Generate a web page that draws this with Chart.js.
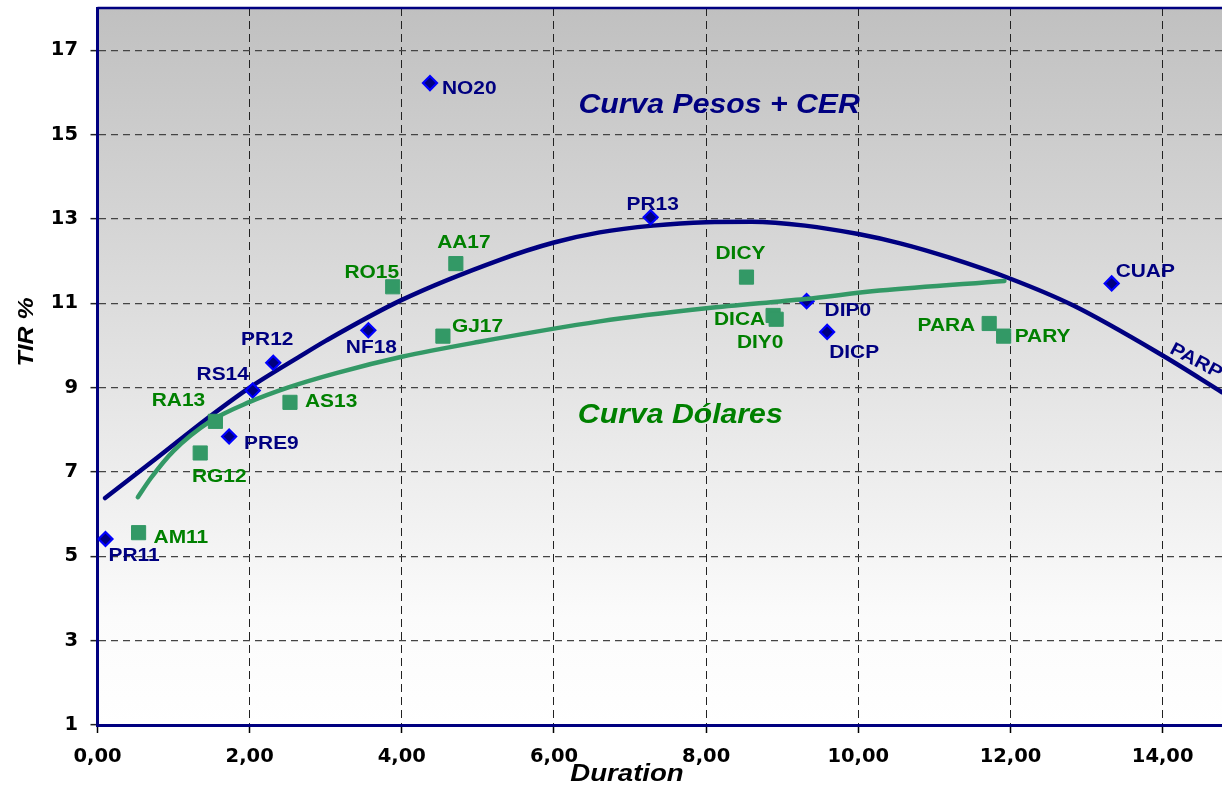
<!DOCTYPE html>
<html><head><meta charset="utf-8">
<script src="https://cdn.jsdelivr.net/npm/chart.js@4"></script>
<style>html,body{margin:0;padding:0;background:#fff;overflow:hidden}#wrap{width:1222px;height:789px;position:relative}</style>
</head><body><div id="wrap"><canvas id="c" width="1222" height="789"></canvas></div>
<script>
// ---------- data ----------
const cerNames    = ['PR11','NO20','NF18','PR12','RS14','PRE9','PR13','DIP0','DICP','CUAP'];
const cerDuration = [0.105, 4.37, 3.56, 2.31, 2.04, 1.73, 7.27, 9.32, 9.59, 13.33];
const cerTIR      = [5.41, 16.22, 10.36, 9.59, 8.93, 7.84, 13.04, 11.05, 10.32, 11.47];

const usdNames    = ['AM11','RG12','RA13','AS13','RO15','AA17','GJ17','DICY','DICA','DIY0','PARA','PARY'];
const usdDuration = [0.54, 1.35, 1.55, 2.53, 3.88, 4.71, 4.54, 8.53, 8.88, 8.92, 11.72, 11.91];
const usdTIR      = [5.56, 7.45, 8.20, 8.65, 11.39, 11.94, 10.22, 11.62, 10.71, 10.62, 10.52, 10.22];

const cerCurveX = [0.10, 0.80, 1.48, 2.00, 2.66, 3.01, 4.00, 5.29, 6.00, 6.60, 7.30, 8.00, 8.60, 9.30, 10.00, 10.55, 11.20, 12.00, 12.82, 14.00, 14.78];
const cerCurveY = [6.38, 7.36, 8.32, 9.00, 9.74, 10.12, 11.08, 12.03, 12.44, 12.68, 12.84, 12.92, 12.93, 12.84, 12.64, 12.42, 12.08, 11.58, 10.95, 9.76, 8.89];

const usdCurveX = [0.53, 0.70, 1.00, 1.48, 2.00, 2.50, 3.15, 4.00, 5.00, 6.60, 8.00, 9.30, 10.28, 11.92];
const usdCurveY = [6.40, 6.85, 7.50, 8.20, 8.66, 9.00, 9.35, 9.73, 10.08, 10.57, 10.88, 11.10, 11.30, 11.53];

const xTicks = [0, 2, 4, 6, 8, 10, 12, 14];
const yTicks = [1, 3, 5, 7, 9, 11, 13, 15, 17];
const xTitle = 'Duration';
const yTitle = 'TIR %';
const cerTitle = 'Curva Pesos + CER';
const usdTitle = 'Curva Dólares';
const extraLabel = 'PARP';

// ---------- layout / style (not data) ----------
const NAVY = '#000080', BLUE = '#0000ff', SEA = '#339966', GREEN = '#008000';
const labelPos = {
  PR11:[3,17,'left'], NO20:[12,6,'left'], NF18:[3,18,'center'], PR12:[-6,-23,'center'],
  RS14:[-30,-16,'center'], PRE9:[15,7.5,'left'], PR13:[2,-12.5,'center'], DIP0:[18,10,'left'],
  DICP:[2,21,'left'], CUAP:[4,-11.5,'left'],
  AM11:[15,5,'left'], RG12:[19,24,'center'], RA13:[-37,-20,'center'], AS13:[15,0,'left'],
  RO15:[-21,-14,'center'], AA17:[8,-21,'center'], GJ17:[9,-9,'left'], DICY:[-6,-23,'center'],
  DICA:[-8,4.3,'right'], DIY0:[-16,24,'center'], PARA:[-14,2,'right'], PARY:[11,1,'left']
};
const titlePos = { cer:[8.17, 15.70], usd:[7.66, 8.34], parp:[14.11, 9.94] };

function drawText(ctx, txt, x, y, align, font, color, sx, rot) {
  ctx.save();
  ctx.translate(x, y);
  if (rot) ctx.rotate(rot);
  ctx.scale(sx, 1);
  ctx.font = font;
  ctx.fillStyle = color;
  ctx.textAlign = align;
  ctx.textBaseline = 'middle';
  ctx.fillText(txt, 0, 0);
  ctx.restore();
}

const bgPlugin = {
  id: 'bg',
  beforeDraw(chart) {
    const {ctx, chartArea: a} = chart;
    const g = ctx.createLinearGradient(0, a.top, 0, a.bottom);
    g.addColorStop(0, '#c0c0c0');
    g.addColorStop(0.55, '#e6e6e6');
    g.addColorStop(0.85, '#fbfbfb');
    g.addColorStop(1, '#ffffff');
    ctx.save();
    ctx.fillStyle = g;
    ctx.fillRect(a.left, a.top, a.right - a.left, a.bottom - a.top);
    ctx.restore();
  },
  beforeDatasetsDraw(chart) {
    const {ctx, chartArea: a} = chart;
    ctx.save();
    ctx.strokeStyle = NAVY; ctx.lineWidth = 2.5;
    ctx.beginPath(); ctx.moveTo(a.left, a.top); ctx.lineTo(a.right, a.top); ctx.stroke();
    ctx.restore();
  },
  afterDatasetsDraw(chart) {
    const ctx = chart.ctx, xs = chart.scales.x, ys = chart.scales.y;
    const lf = 'bold 18.5px "Liberation Sans", Arial, sans-serif';
    cerNames.forEach((n, i) => {
      const p = labelPos[n];
      drawText(ctx, n, xs.getPixelForValue(cerDuration[i]) + p[0], ys.getPixelForValue(cerTIR[i]) + p[1], p[2], lf, NAVY, 1.13);
    });
    usdNames.forEach((n, i) => {
      const p = labelPos[n];
      drawText(ctx, n, xs.getPixelForValue(usdDuration[i]) + p[0], ys.getPixelForValue(usdTIR[i]) + p[1], p[2], lf, GREEN, 1.13);
    });
    drawText(ctx, extraLabel, xs.getPixelForValue(titlePos.parp[0]), ys.getPixelForValue(titlePos.parp[1]), 'left', lf, NAVY, 1.13, 28 * Math.PI / 180);
    const tf = 'italic bold 28.5px "Liberation Sans", Arial, sans-serif';
    drawText(ctx, cerTitle, xs.getPixelForValue(titlePos.cer[0]), ys.getPixelForValue(titlePos.cer[1]), 'center', tf, NAVY, 1.06);
    drawText(ctx, usdTitle, xs.getPixelForValue(titlePos.usd[0]), ys.getPixelForValue(titlePos.usd[1]), 'center', tf, GREEN, 1.06);
  },
  afterDraw(chart) {
    const ctx = chart.ctx;
    drawText(ctx, xTitle, 627, 775, 'center', 'italic bold 23px "Liberation Sans", Arial, sans-serif', '#000', 1.2);
    drawText(ctx, yTitle, 27, 332, 'center', 'italic bold 22px "Liberation Sans", Arial, sans-serif', '#000', 1.13, -Math.PI / 2);
  }
};

const fmt = v => v.toFixed(2).replace('.', ',');

new Chart(document.getElementById('c'), {
  type: 'scatter',
  data: {
    datasets: [
      { label: 'Dólares', data: usdDuration.map((x, i) => ({x, y: usdTIR[i]})),
        pointStyle: 'rect', pointRadius: 10, pointBackgroundColor: SEA, pointBorderColor: SEA, pointBorderWidth: 1 },
      { label: 'Curva Dólares', data: usdCurveX.map((x, i) => ({x, y: usdCurveY[i]})),
        showLine: true, pointRadius: 0, borderColor: SEA, borderWidth: 4.5, cubicInterpolationMode: 'monotone', borderCapStyle: 'round' },
      { label: 'Pesos + CER', data: cerDuration.map((x, i) => ({x, y: cerTIR[i]})),
        pointStyle: 'rectRot', pointRadius: 7, pointBackgroundColor: NAVY, pointBorderColor: BLUE, pointBorderWidth: 2.2 },
      { label: 'Curva Pesos + CER', data: cerCurveX.map((x, i) => ({x, y: cerCurveY[i]})),
        showLine: true, pointRadius: 0, borderColor: NAVY, borderWidth: 4.5, cubicInterpolationMode: 'monotone', borderCapStyle: 'round' }
    ]
  },
  options: {
    responsive: false,
    animation: false,
    layout: { autoPadding: false, padding: { top: 8, left: 0, right: 0, bottom: 0 } },
    plugins: { legend: { display: false }, tooltip: { enabled: false } },
    scales: {
      x: {
        type: 'linear', min: 0, max: 14.78,
        afterBuildTicks: s => { s.ticks = xTicks.map(v => ({value: v})); },
        afterFit: s => { s.height = 64; s.paddingLeft = 0; s.paddingRight = 0; },
        ticks: { color: '#000', font: { family: '"DejaVu Sans", Verdana, sans-serif', size: 19.5, weight: 'bold' }, padding: 12, maxRotation: 0, callback: v => fmt(v) },
        grid: { color: '#222', lineWidth: 1, tickBorderDash: [], tickColor: '#000', tickLength: 8, tickWidth: 1.5 },
        border: { display: true, color: NAVY, width: 3, dash: [8, 5] }
      },
      y: {
        type: 'linear', min: 1, max: 18,
        afterBuildTicks: s => { s.ticks = yTicks.map(v => ({value: v})); },
        afterFit: s => { s.width = 97.5; s.paddingTop = 0; s.paddingBottom = 0; },
        ticks: { color: '#000', font: { family: '"DejaVu Sans", Verdana, sans-serif', size: 19.5, weight: 'bold' }, padding: 12.5, callback: v => String(v) },
        grid: { color: '#444', lineWidth: 1.3, tickBorderDash: [], tickColor: '#222', tickLength: 7, tickWidth: 1.5 },
        border: { display: true, color: NAVY, width: 3, dash: [7, 5] }
      }
    }
  },
  plugins: [bgPlugin]
});
</script>
</body></html>
